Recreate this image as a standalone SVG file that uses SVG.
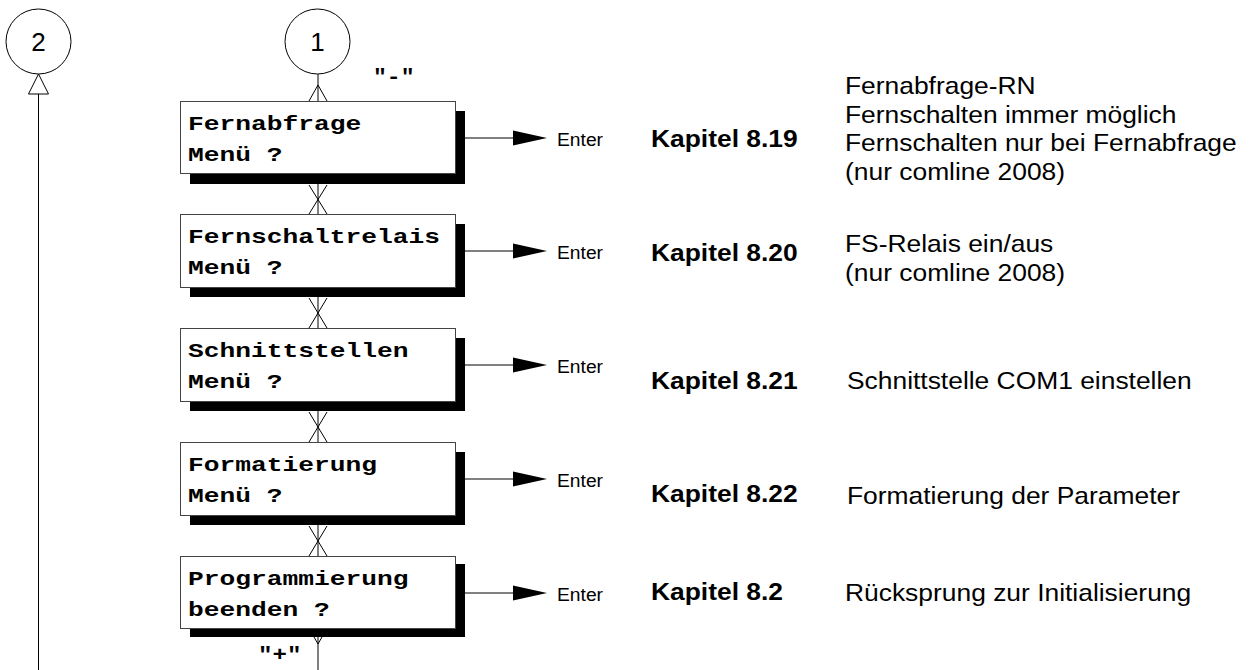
<svg xmlns="http://www.w3.org/2000/svg" width="1255" height="670" viewBox="0 0 1255 670">
<style>
.box{fill:#fff;stroke:#444;stroke-width:1}
.sh{fill:#000}
.ln{stroke:#000;stroke-width:1;fill:none}
.mono{font-family:"Liberation Mono","Courier New",monospace;font-weight:bold;font-size:21px;fill:#000}
.sans{font-family:"Liberation Sans",Arial,sans-serif;font-size:24px;fill:#000}
.kap{font-family:"Liberation Sans",Arial,sans-serif;font-size:24px;font-weight:bold;fill:#000}
.ent{font-family:"Liberation Sans",Arial,sans-serif;font-size:18px;fill:#000}
.num{font-family:"Liberation Sans",Arial,sans-serif;font-size:26px;fill:#000;text-anchor:middle}
</style>
<defs>
<path id="ah" d="M0,0 L-34,-7.5 L-34,7.5 Z" fill="#000"/>
</defs>
<g id="connectors">
<line class="ln" x1="38.5" y1="94" x2="38.5" y2="670"/>
<path d="M38.5,74 L28.5,94 L48.5,94 Z" fill="#fff" stroke="#000"/>
<line class="ln" x1="318" y1="74" x2="318" y2="101"/>
<path class="ln" d="M309,101 L318,85 L327,101"/>
<line class="ln" x1="318" y1="184" x2="318" y2="214"/>
<path class="ln" d="M309,185 L327,214 M327,185 L309,214"/>
<line class="ln" x1="318" y1="297" x2="318" y2="328"/>
<path class="ln" d="M309,298 L327,328 M327,298 L309,328"/>
<line class="ln" x1="318" y1="411" x2="318" y2="442"/>
<path class="ln" d="M309,412 L327,442 M327,412 L309,442"/>
<line class="ln" x1="318" y1="525" x2="318" y2="556"/>
<path class="ln" d="M309,526 L327,556 M327,526 L309,556"/>
<line class="ln" x1="318" y1="637" x2="318" y2="670"/>
<path class="ln" d="M314,637 L318,644 L322,637"/>
<line class="ln" x1="465" y1="138" x2="514" y2="138"/><use href="#ah" x="547" y="138"/>
<line class="ln" x1="465" y1="251" x2="514" y2="251"/><use href="#ah" x="547" y="251"/>
<line class="ln" x1="465" y1="365" x2="514" y2="365"/><use href="#ah" x="547" y="365"/>
<line class="ln" x1="465" y1="479" x2="514" y2="479"/><use href="#ah" x="547" y="479"/>
<line class="ln" x1="465" y1="593" x2="514" y2="593"/><use href="#ah" x="547" y="593"/>
<text class="mono" font-size="15" transform="translate(373,83) scale(1.1,1)">"-"</text>
<text class="mono" transform="translate(258,661) scale(1.15,1)">"+"</text>
</g>
<g id="c2">
<circle cx="38.5" cy="41.5" r="32.5" fill="#fff" stroke="#000"/>
<text class="num" x="38.5" y="51">2</text>
</g>
<g id="c1">
<circle cx="317.5" cy="41.5" r="32.5" fill="#fff" stroke="#000"/>
<text class="num" x="317.5" y="51">1</text>
</g>
<g id="n1">
<rect class="sh" x="190" y="111" width="275" height="73"/>
<rect class="box" x="180.5" y="101.5" width="275" height="72"/>
<text class="mono" transform="translate(188,130) scale(1.25,1)">Fernabfrage</text>
<text class="mono" transform="translate(188,161) scale(1.25,1)">Menü ?</text>
</g>
<g id="n2">
<rect class="sh" x="190" y="224" width="275" height="73"/>
<rect class="box" x="180.5" y="214.5" width="275" height="73"/>
<text class="mono" transform="translate(188,243) scale(1.25,1)">Fernschaltrelais</text>
<text class="mono" transform="translate(188,274) scale(1.25,1)">Menü ?</text>
</g>
<g id="n3">
<rect class="sh" x="190" y="338" width="275" height="73"/>
<rect class="box" x="180.5" y="328.5" width="275" height="73"/>
<text class="mono" transform="translate(188,357) scale(1.25,1)">Schnittstellen</text>
<text class="mono" transform="translate(188,388) scale(1.25,1)">Menü ?</text>
</g>
<g id="n4">
<rect class="sh" x="190" y="452" width="275" height="73"/>
<rect class="box" x="180.5" y="442.5" width="275" height="73"/>
<text class="mono" transform="translate(188,471) scale(1.25,1)">Formatierung</text>
<text class="mono" transform="translate(188,502) scale(1.25,1)">Menü ?</text>
</g>
<g id="n5">
<rect class="sh" x="190" y="564" width="275" height="73"/>
<rect class="box" x="180.5" y="556.5" width="275" height="72"/>
<text class="mono" transform="translate(188,585) scale(1.25,1)">Programmierung</text>
<text class="mono" transform="translate(188,616) scale(1.25,1)">beenden ?</text>
</g>
<g id="labels">
<text class="ent" transform="translate(557,146) scale(1.07,1)">Enter</text>
<text class="ent" transform="translate(557,259) scale(1.07,1)">Enter</text>
<text class="ent" transform="translate(557,373) scale(1.07,1)">Enter</text>
<text class="ent" transform="translate(557,487) scale(1.07,1)">Enter</text>
<text class="ent" transform="translate(557,601) scale(1.07,1)">Enter</text>
<text class="kap" transform="translate(651,147) scale(1.1,1)">Kapitel 8.19</text>
<text class="kap" transform="translate(651,261) scale(1.1,1)">Kapitel 8.20</text>
<text class="kap" transform="translate(651,389) scale(1.1,1)">Kapitel 8.21</text>
<text class="kap" transform="translate(651,502) scale(1.1,1)">Kapitel 8.22</text>
<text class="kap" transform="translate(651,600) scale(1.1,1)">Kapitel 8.2</text>
<text class="sans" transform="translate(845,94) scale(1.1,1)">Fernabfrage-RN</text>
<text class="sans" transform="translate(845,123) scale(1.1,1)">Fernschalten immer möglich</text>
<text class="sans" transform="translate(845,151) scale(1.1,1)">Fernschalten nur bei Fernabfrage</text>
<text class="sans" transform="translate(845,180) scale(1.1,1)">(nur comline 2008)</text>
<text class="sans" transform="translate(845,252) scale(1.1,1)">FS-Relais ein/aus</text>
<text class="sans" transform="translate(845,281) scale(1.1,1)">(nur comline 2008)</text>
<text class="sans" transform="translate(847,389) scale(1.1,1)">Schnittstelle COM1 einstellen</text>
<text class="sans" transform="translate(847,504) scale(1.1,1)">Formatierung der Parameter</text>
<text class="sans" transform="translate(845,601) scale(1.1,1)">Rücksprung zur Initialisierung</text>
</g>
</svg>
